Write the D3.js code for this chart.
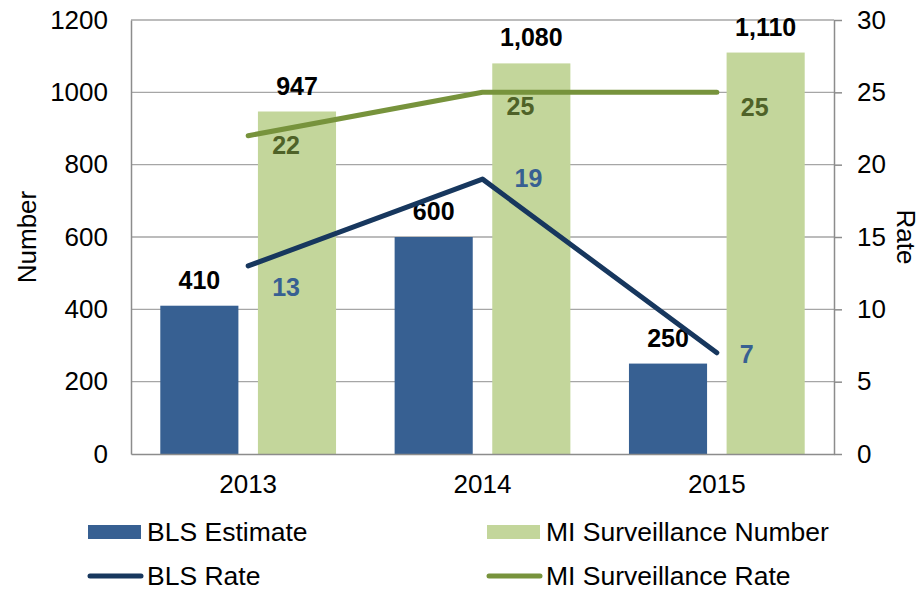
<!DOCTYPE html>
<html>
<head>
<meta charset="utf-8">
<script src="https://cdn.jsdelivr.net/npm/d3@7"></script>
<style>
  body { margin: 0; background: #fff; }
  text { font-family: "Liberation Sans", Arial, sans-serif; }
</style>
</head>
<body>
<script>
// DATA
var years = ["2013", "2014", "2015"];
var blsEstimate = [410, 600, 250];
var miNumber = [947, 1080, 1110];
var blsRate = [13, 19, 7];
var miRate = [22, 25, 25];
var leftTicks = [0, 200, 400, 600, 800, 1000, 1200];
var rightTicks = [0, 5, 10, 15, 20, 25, 30];

// label nudges for the rate labels (dx, dy from the point)
var blsNudge = [[24, 30], [32, 8], [23, 10]];
var miNudge = [[24, 18], [24, 23], [24, 24]];

// colours
var cBlsBar = "#376092",
  cMiBar = "#c3d69b",
  cBlsLine = "#17375e",
  cMiLine = "#77933c",
  cBlsLabel = "#376092",
  cMiLabel = "#4f6228",
  cGrid = "#a6a6a6";

// dimensions and margins
var margin = { top: 20, right: 89, bottom: 137, left: 131 },
  W = 923, H = 591,
  width = W - margin.left - margin.right,
  height = H - margin.top - margin.bottom;

var svg = d3.select("body").append("svg")
  .attr("width", W)
  .attr("height", H);

var g = svg.append("g")
  .attr("transform", "translate(" + margin.left + "," + margin.top + ")");

// scales
var x = d3.scaleBand().domain(years).range([0, width]).padding(0);
var xSub = d3.scaleBand().domain(["bls", "mi"]).range([0, x.bandwidth()])
  .paddingInner(0.2).paddingOuter(0.3);
var yL = d3.scaleLinear().domain([0, 1200]).range([height, 0]);
var yR = d3.scaleLinear().domain([0, 30]).range([height, 0]);

// gridlines
g.selectAll("line.grid")
  .data(leftTicks.slice(1))
  .enter().append("line")
  .attr("class", "grid")
  .attr("x1", 0).attr("x2", width)
  .attr("y1", function (d) { return yL(d); })
  .attr("y2", function (d) { return yL(d); })
  .attr("stroke", cGrid)
  .attr("stroke-width", 1.3);

// bars
var rows = years.map(function (y, i) {
  return { year: y, bls: blsEstimate[i], mi: miNumber[i] };
});

var groups = g.selectAll("g.year")
  .data(rows)
  .enter().append("g")
  .attr("class", "year")
  .attr("transform", function (d) { return "translate(" + x(d.year) + ",0)"; });

groups.append("rect")
  .attr("x", xSub("bls"))
  .attr("width", xSub.bandwidth())
  .attr("y", function (d) { return yL(d.bls); })
  .attr("height", function (d) { return height - yL(d.bls); })
  .attr("fill", cBlsBar);

groups.append("rect")
  .attr("x", xSub("mi"))
  .attr("width", xSub.bandwidth())
  .attr("y", function (d) { return yL(d.mi); })
  .attr("height", function (d) { return height - yL(d.mi); })
  .attr("fill", cMiBar);

// bar labels
var fmt = d3.format(",");
groups.append("text")
  .attr("x", xSub("bls") + xSub.bandwidth() / 2)
  .attr("y", function (d) { return yL(d.bls) - 17; })
  .attr("text-anchor", "middle")
  .attr("font-size", 25)
  .attr("font-weight", "bold")
  .text(function (d) { return fmt(d.bls); });

groups.append("text")
  .attr("x", xSub("mi") + xSub.bandwidth() / 2)
  .attr("y", function (d) { return yL(d.mi) - 17; })
  .attr("text-anchor", "middle")
  .attr("font-size", 25)
  .attr("font-weight", "bold")
  .text(function (d) { return fmt(d.mi); });

// axes
var xAxis = g.append("g")
  .attr("transform", "translate(0," + height + ")")
  .call(d3.axisBottom(x).tickSize(0).tickPadding(21));
xAxis.select(".domain").attr("stroke", "#8c8c8c").attr("stroke-width", 1.5);
xAxis.selectAll("text").attr("font-size", 26).attr("fill", "#000");

var yAxisL = g.append("g")
  .call(d3.axisLeft(yL).tickValues(leftTicks).tickFormat(d3.format("d")).tickSize(0).tickPadding(23));
yAxisL.select(".domain").attr("stroke", "#8c8c8c").attr("stroke-width", 1.5);
yAxisL.selectAll("text").attr("font-size", 26).attr("fill", "#000");

var yAxisR = g.append("g")
  .attr("transform", "translate(" + width + ",0)")
  .call(d3.axisRight(yR).tickValues(rightTicks).tickSizeInner(8).tickSizeOuter(0).tickPadding(15));
yAxisR.select(".domain").attr("stroke", "#8c8c8c").attr("stroke-width", 1.5);
yAxisR.selectAll("line").attr("stroke", "#8c8c8c").attr("stroke-width", 1.5);
yAxisR.selectAll("text").attr("font-size", 26).attr("fill", "#000");

// axis titles
svg.append("text")
  .attr("transform", "translate(36," + (margin.top + height / 2) + ") rotate(-90)")
  .attr("text-anchor", "middle")
  .attr("font-size", 26)
  .text("Number");

svg.append("text")
  .attr("transform", "translate(897," + (margin.top + height / 2) + ") rotate(90)")
  .attr("text-anchor", "middle")
  .attr("font-size", 26)
  .text("Rate");

// rate lines
var cx = function (i) { return x(years[i]) + x.bandwidth() / 2; };
var line = d3.line()
  .x(function (d, i) { return cx(i); })
  .y(function (d) { return yR(d); });

g.append("path")
  .datum(blsRate)
  .attr("d", line)
  .attr("fill", "none")
  .attr("stroke", cBlsLine)
  .attr("stroke-width", 5)
  .attr("stroke-linecap", "round")
  .attr("stroke-linejoin", "round");

g.append("path")
  .datum(miRate)
  .attr("d", line)
  .attr("fill", "none")
  .attr("stroke", cMiLine)
  .attr("stroke-width", 5)
  .attr("stroke-linecap", "round")
  .attr("stroke-linejoin", "round");

// rate labels
g.selectAll("text.blsr")
  .data(blsRate)
  .enter().append("text")
  .attr("class", "blsr")
  .attr("x", function (d, i) { return cx(i) + blsNudge[i][0]; })
  .attr("y", function (d, i) { return yR(d) + blsNudge[i][1]; })
  .attr("font-size", 25)
  .attr("font-weight", "bold")
  .attr("fill", cBlsLabel)
  .text(function (d) { return d; });

g.selectAll("text.mir")
  .data(miRate)
  .enter().append("text")
  .attr("class", "mir")
  .attr("x", function (d, i) { return cx(i) + miNudge[i][0]; })
  .attr("y", function (d, i) { return yR(d) + miNudge[i][1]; })
  .attr("font-size", 25)
  .attr("font-weight", "bold")
  .attr("fill", cMiLabel)
  .text(function (d) { return d; });

// legend
var legend = [
  { name: "BLS Estimate", type: "bar", color: cBlsBar, x: 88, y: 532 },
  { name: "MI Surveillance Number", type: "bar", color: cMiBar, x: 487, y: 532 },
  { name: "BLS Rate", type: "line", color: cBlsLine, x: 88, y: 576 },
  { name: "MI Surveillance Rate", type: "line", color: cMiLine, x: 487, y: 576 }
];

var lg = svg.selectAll("g.legend")
  .data(legend)
  .enter().append("g")
  .attr("class", "legend")
  .attr("transform", function (d) { return "translate(" + d.x + "," + d.y + ")"; });

lg.filter(function (d) { return d.type === "bar"; })
  .append("rect")
  .attr("x", 0).attr("y", -7)
  .attr("width", 53).attr("height", 14)
  .attr("fill", function (d) { return d.color; });

lg.filter(function (d) { return d.type === "line"; })
  .append("line")
  .attr("x1", 2).attr("x2", 53)
  .attr("stroke", function (d) { return d.color; })
  .attr("stroke-width", 5)
  .attr("stroke-linecap", "round");

lg.append("text")
  .attr("x", 59)
  .attr("y", 9)
  .attr("font-size", 26.5)
  .text(function (d) { return d.name; });
</script>
</body>
</html>
